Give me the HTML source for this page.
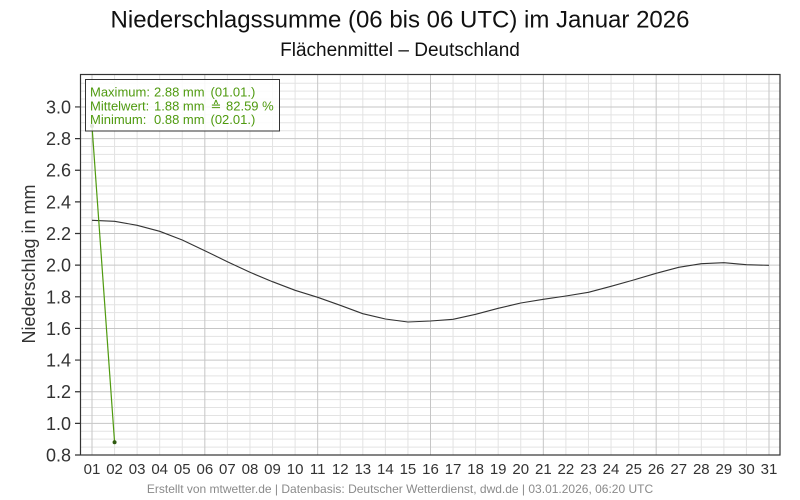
<!DOCTYPE html>
<html>
<head>
<meta charset="utf-8">
<style>
html,body{margin:0;padding:0;background:#fff;}
svg{display:block;}
text{font-family:"Liberation Sans","DejaVu Sans",sans-serif;}
</style>
</head>
<body>
<svg width="800" height="500" viewBox="0 0 800 500" xmlns="http://www.w3.org/2000/svg">
<rect x="0" y="0" width="800" height="500" fill="#fff"/>
<text x="400" y="27.5" font-size="24" text-anchor="middle" fill="#111">Niederschlagssumme (06 bis 06 UTC) im Januar 2026</text>
<text x="400" y="56" font-size="19" text-anchor="middle" fill="#111">Flächenmittel – Deutschland</text>

<!-- minor horizontal grid -->
<path stroke="#e3e3e3" stroke-width="1" fill="none" d="
M80 447.09H780 M80 439.18H780 M80 431.27H780
M80 415.45H780 M80 407.54H780 M80 399.63H780
M80 383.81H780 M80 375.9H780 M80 367.99H780
M80 352.17H780 M80 344.26H780 M80 336.35H780
M80 320.53H780 M80 312.62H780 M80 304.71H780
M80 288.89H780 M80 280.98H780 M80 273.07H780
M80 257.25H780 M80 249.34H780 M80 241.43H780
M80 225.61H780 M80 217.7H780 M80 209.79H780
M80 193.97H780 M80 186.06H780 M80 178.15H780
M80 162.33H780 M80 154.42H780 M80 146.51H780
M80 130.69H780 M80 122.78H780 M80 114.87H780
M80 99.05H780 M80 91.14H780 M80 83.23H780"/>
<!-- minor vertical grid -->
<path stroke="#e3e3e3" stroke-width="1" fill="none" d="
M114.57 74V455 M137.13 74V455 M159.7 74V455 M182.27 74V455
M227.4 74V455 M249.97 74V455 M272.53 74V455 M295.1 74V455
M340.23 74V455 M362.8 74V455 M385.37 74V455 M407.93 74V455
M453.07 74V455 M475.63 74V455 M498.2 74V455 M520.77 74V455
M565.9 74V455 M588.47 74V455 M611.03 74V455 M633.6 74V455
M678.73 74V455 M701.3 74V455 M723.87 74V455 M746.43 74V455"/>
<!-- major grid -->
<path stroke="#c6c6c6" stroke-width="1" fill="none" d="
M80 423.36H780 M80 391.72H780 M80 360.08H780 M80 328.44H780 M80 296.8H780
M80 265.16H780 M80 233.52H780 M80 201.88H780 M80 170.24H780 M80 138.6H780 M80 106.96H780
M92 74V455 M204.83 74V455 M317.67 74V455 M430.5 74V455 M543.33 74V455 M656.17 74V455 M769 74V455"/>

<!-- climatology curve -->
<polyline fill="none" stroke="#333" stroke-width="1.1" stroke-linejoin="round" points="92,220.3 114.57,221.3 137.13,225.3 159.7,231.3 182.27,240 204.83,250.7 227.4,261.7 249.97,272.3 272.53,281.7 295.1,290.3 317.67,297.3 340.23,305.3 362.8,313.7 385.37,319 407.93,322 430.5,321 453.07,319.3 475.63,314.3 498.2,308.3 520.77,303 543.33,299.3 565.9,296 588.47,292.3 611.03,286.3 633.6,280 656.17,273.3 678.73,267.3 701.3,263.7 723.87,262.7 746.43,264.7 769,265.3"/>

<!-- actual series -->
<polyline fill="none" stroke="#4f9a0f" stroke-width="1.2" points="92,126 114.57,442.3"/>
<circle cx="92" cy="126" r="2" fill="#2f5a10"/>
<circle cx="114.57" cy="442.3" r="2" fill="#2f5a10"/>

<!-- legend box -->
<rect x="85.5" y="79.5" width="194" height="51.5" fill="#fff" fill-opacity="0.85" stroke="#333" stroke-width="1"/>
<g font-size="13" fill="#4f9a0f">
<text x="90" y="96.5">Maximum:</text>
<text x="154" y="96.5">2.88 mm</text>
<text x="210.5" y="96.5">(01.01.)</text>
<text x="90" y="110.3">Mittelwert:</text>
<text x="154" y="110.3">1.88 mm</text>
<text x="210.5" y="110.3">≙</text>
<text x="226" y="110.3">82.59 %</text>
<text x="90" y="124.1">Minimum:</text>
<text x="154" y="124.1">0.88 mm</text>
<text x="210.5" y="124.1">(02.01.)</text>
</g>

<!-- frame -->
<rect x="80.5" y="74.5" width="699.5" height="380.5" fill="none" stroke="#333" stroke-width="1.2"/>

<!-- y ticks -->
<path stroke="#333" stroke-width="1.2" d="M75 455H80 M75 423.36H80 M75 391.72H80 M75 360.08H80 M75 328.44H80 M75 296.8H80 M75 265.16H80 M75 233.52H80 M75 201.88H80 M75 170.24H80 M75 138.6H80 M75 106.96H80"/>
<g font-size="18" fill="#333" text-anchor="end">
<text x="71" y="461.5">0.8</text>
<text x="71" y="429.9">1.0</text>
<text x="71" y="398.2">1.2</text>
<text x="71" y="366.6">1.4</text>
<text x="71" y="334.9">1.6</text>
<text x="71" y="303.3">1.8</text>
<text x="71" y="271.7">2.0</text>
<text x="71" y="240">2.2</text>
<text x="71" y="208.4">2.4</text>
<text x="71" y="176.7">2.6</text>
<text x="71" y="145.1">2.8</text>
<text x="71" y="113.5">3.0</text>
</g>
<text transform="translate(35,264) rotate(-90)" font-size="18" fill="#333" text-anchor="middle">Niederschlag in mm</text>

<!-- x labels -->
<g font-size="15" fill="#333" text-anchor="middle">
<text x="92" y="474">01</text><text x="114.57" y="474">02</text><text x="137.13" y="474">03</text><text x="159.7" y="474">04</text>
<text x="182.27" y="474">05</text><text x="204.83" y="474">06</text><text x="227.4" y="474">07</text><text x="249.97" y="474">08</text>
<text x="272.53" y="474">09</text><text x="295.1" y="474">10</text><text x="317.67" y="474">11</text><text x="340.23" y="474">12</text>
<text x="362.8" y="474">13</text><text x="385.37" y="474">14</text><text x="407.93" y="474">15</text><text x="430.5" y="474">16</text>
<text x="453.07" y="474">17</text><text x="475.63" y="474">18</text><text x="498.2" y="474">19</text><text x="520.77" y="474">20</text>
<text x="543.33" y="474">21</text><text x="565.9" y="474">22</text><text x="588.47" y="474">23</text><text x="611.03" y="474">24</text>
<text x="633.6" y="474">25</text><text x="656.17" y="474">26</text><text x="678.73" y="474">27</text><text x="701.3" y="474">28</text>
<text x="723.87" y="474">29</text><text x="746.43" y="474">30</text><text x="769" y="474">31</text>
</g>

<text x="400" y="493" font-size="12" fill="#8a8a8a" text-anchor="middle">Erstellt von mtwetter.de | Datenbasis: Deutscher Wetterdienst, dwd.de | 03.01.2026, 06:20 UTC</text>
</svg>
</body>
</html>
